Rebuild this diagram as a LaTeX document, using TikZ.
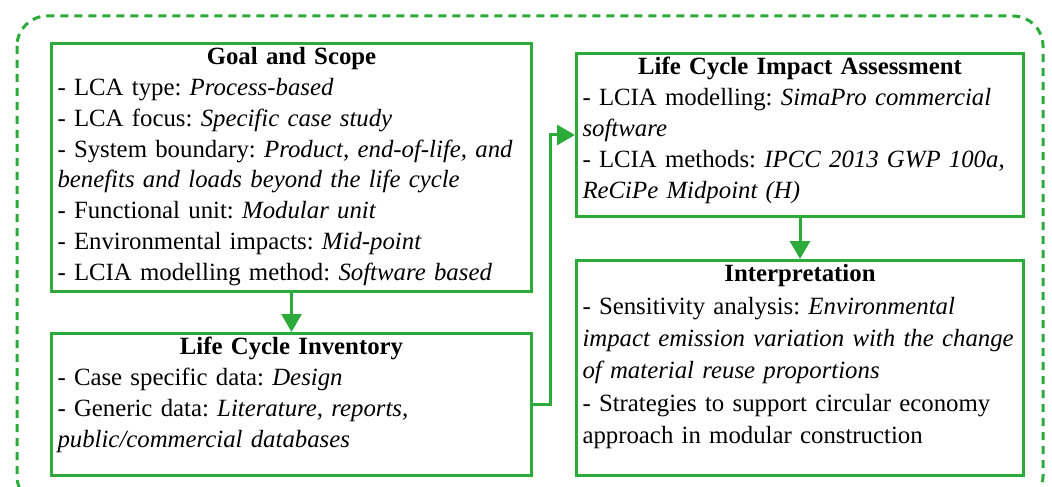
\documentclass[tikz,border=0pt]{standalone}
\usepackage{fontspec}
\setmainfont{Liberation Serif}
\usepackage{tikz}
\usetikzlibrary{positioning,arrows.meta}
\definecolor{lcagreen}{RGB}{44,170,58}
\tikzstyle{stage} = [
rectangle,
draw=lcagreen,
line width=1.5pt,
inner xsep=3pt,
inner ysep=2pt,
anchor=north west,
font=\fontsize{12.4}{15.4}\selectfont
]
\tikzstyle{frame} = [
draw=lcagreen,
line width=1.5pt,
dash pattern=on 4pt off 3pt,
rounded corners=15pt
]
\tikzstyle{arrow} = [
draw=lcagreen,
line width=1.5pt,
-{Triangle[width=10pt,length=9pt]}
]
\frenchspacing
% title line centred, items flush left, text kept at the top of the box
\newcommand{\stagebody}[3]{%
\begin{minipage}[t][#1][t]{\linewidth}
\centering\textbf{#2}\par
\raggedright\begin{tabular}[t]{@{}l@{}}#3\end{tabular}
\end{minipage}}

\begin{document}
\begin{tikzpicture}[x=0.5pt,y=-0.5pt]
					\path[use as bounding box,clip] (0,0) rectangle (1052,486);
					%Frame
					\draw[frame] (17,16) rectangle (1043,506);
					%Nodes
					\node[stage,text width=234pt] (goal) at (50,42) {\stagebody{120pt}{Goal and Scope}{%
						- LCA type: \textit{Process-based}\\
						- LCA focus: \textit{Specific case study}\\
						- System boundary: \textit{Product, end-of-life, and}\\
						\textit{benefits and loads beyond the life cycle}\\
						- Functional unit: \textit{Modular unit}\\
						- Environmental impacts: \textit{Mid-point}\\
						- LCIA modelling method: \textit{Software based}}};
					\node[stage,text width=234pt] (lci) at (50,332) {\stagebody{67pt}{Life Cycle Inventory}{%
						- Case specific data: \textit{Design}\\
						- Generic data: \textit{Literature, reports,}\\
						\textit{public/commercial databases}}};
					\node[stage,text width=217.5pt] (lcia) at (575,52) {\stagebody{77.5pt}{Life Cycle Impact Assessment}{%
						- LCIA modelling: \textit{SimaPro commercial}\\
						\textit{software}\\
						- LCIA methods: \textit{IPCC 2013 GWP 100a,}\\
						\textit{ReCiPe Midpoint (H)}}};
					\node[stage,text width=217.5pt,font=\fontsize{12.4}{16.2}\selectfont] (interp) at (575,259) {\stagebody{103.5pt}{Interpretation}{%
						- Sensitivity analysis: \textit{Environmental}\\
						\textit{impact emission variation with the change}\\
						\textit{of material reuse proportions}\\
						- Strategies to support circular economy\\
						approach in modular construction}};
					%Arrows
					\draw[arrow] (goal.south) -- (lci.north);
					\draw[arrow] (lci.east) -- ++(17,0) |- (lcia.west);
					\draw[arrow] (lcia.south) -- (interp.north);
				\end{tikzpicture}
\end{document}
